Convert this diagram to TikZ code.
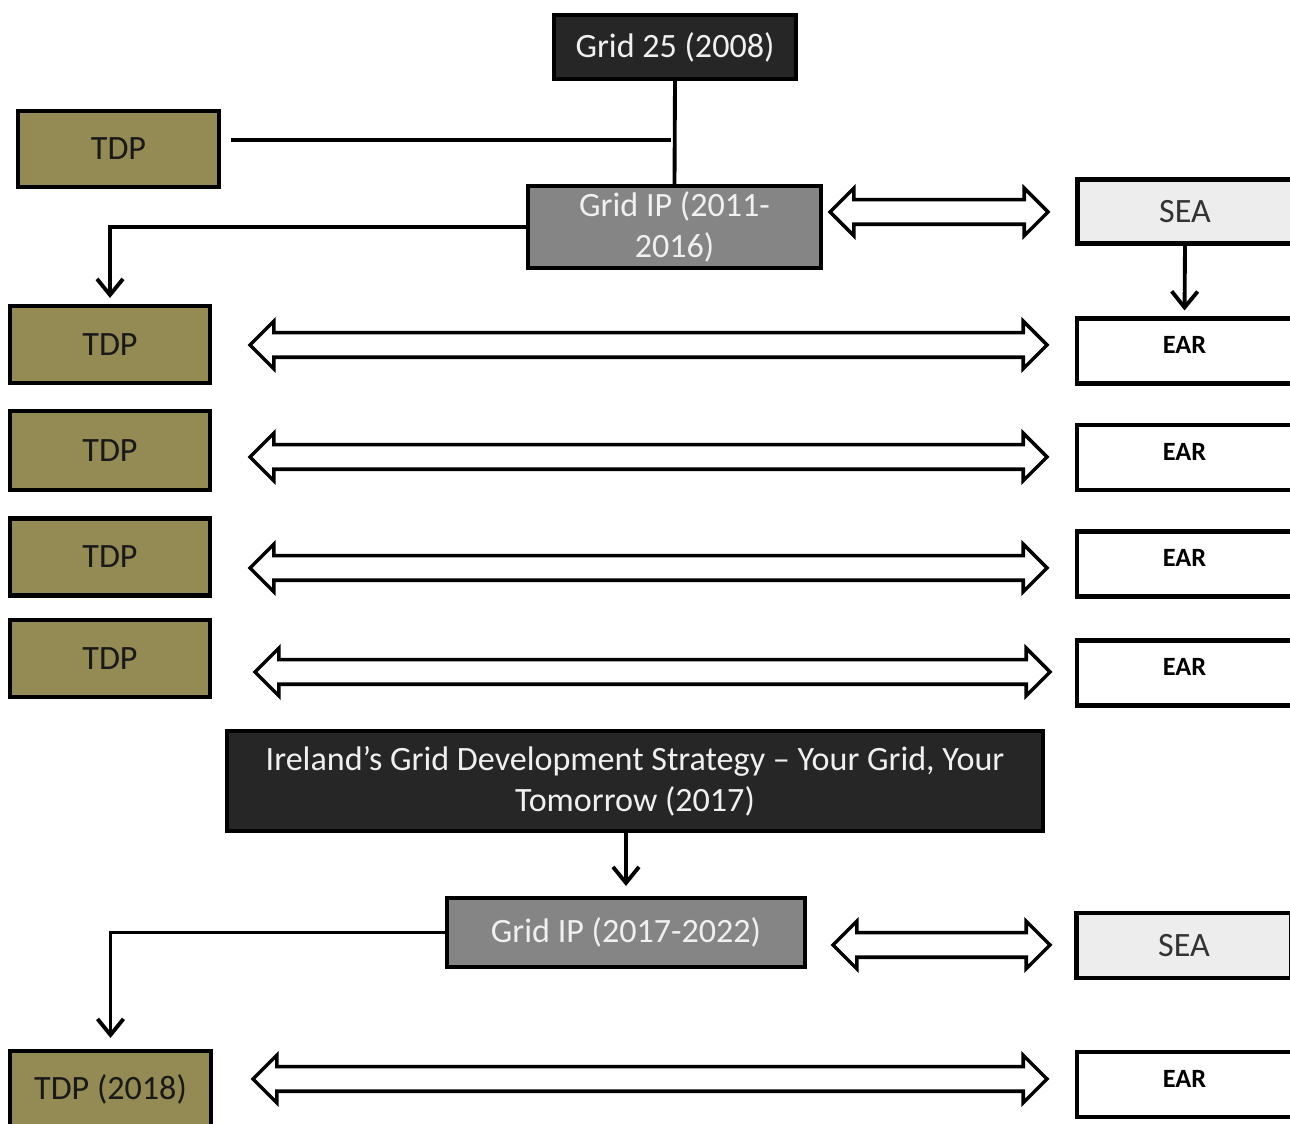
\documentclass[tikz,border=0pt]{standalone}
\usepackage{fontspec}
\setmainfont{Carlito}
\usetikzlibrary{shapes.arrows,arrows.meta,calc}
\definecolor{griddark}{HTML}{262626}
\definecolor{tdpolive}{HTML}{948A54}
\definecolor{ipgray}{HTML}{858585}
\definecolor{sealight}{HTML}{EDEDED}

\begin{document}
\begin{tikzpicture}[x=1cm,y=-1cm,
        box/.style={draw, line width=1.15pt, inner sep=0pt, align=center, font=\fontsize{9.7}{11.7}\selectfont},
        strategy/.style={box, fill=griddark, text=white!94!black},
        plan/.style={box, fill=ipgray, text=white!94!black},
        tdp/.style={box, fill=tdpolive, text=black!90, minimum width=2cm, minimum height=0.77cm},
        sea/.style={box, fill=sealight, text=black!80, minimum width=2.15cm, minimum height=0.64cm},
        ear/.style={box, fill=white, font=\fontsize{7.5}{9}\selectfont\bfseries, text depth=0.12cm, minimum width=2.15cm, minimum height=0.65cm},
        link/.style={line width=1.1pt},
        flow/.style={link, -{Straight Barb[length=0.16cm,width=0.26cm]}},
        dblarrow/.style={double arrow, draw, fill=white, line width=1pt, inner xsep=0pt, inner ysep=0.105cm, double arrow head extend=0.115cm, minimum height=#1}]
        \useasboundingbox (0,0) rectangle (12.9,11.24);
        %% strategies and plans
        \node[strategy, minimum width=2.42cm, minimum height=0.64cm] (g25) at (6.75,0.47) {Grid 25 (2008)};
        \node[tdp, minimum width=2.01cm, minimum height=0.76cm] (tdp0) at (1.185,1.49) {TDP};
        \node[plan, minimum width=2.93cm, minimum height=0.82cm] (ip1) at (6.745,2.27) {Grid IP (2011-\\2016)};
        \node[sea] (sea1) at (11.85,2.115) {SEA};
        \node[strategy, minimum width=8.16cm, minimum height=1cm] (gds) at (6.35,7.81) {Ireland’s Grid Development Strategy – Your Grid, Your\\Tomorrow (2017)};
        \node[plan, minimum width=3.58cm, minimum height=0.69cm] (ip2) at (6.26,9.325) {Grid IP (2017-2022)};
        \node[sea, minimum height=0.65cm] (sea2) at (11.84,9.455) {SEA};
        %% TDPs
        \node[tdp] (tdp1) at (1.1,3.445) {TDP};
        \node[tdp, minimum height=0.79cm] (tdp2) at (1.1,4.505) {TDP};
        \node[tdp] (tdp3) at (1.1,5.57) {TDP};
        \node[tdp] (tdp4) at (1.1,6.585) {TDP};
        \node[tdp, minimum width=2.01cm] (tdp5) at (1.105,10.895) {TDP (2018)};
        %% EARs
        \node[ear] (ear1) at (11.845,3.51) {EAR};
        \node[ear] (ear2) at (11.845,4.575) {EAR};
        \node[ear] (ear3) at (11.845,5.64) {EAR};
        \node[ear] (ear4) at (11.845,6.73) {EAR};
        \node[ear] (ear5) at (11.845,10.845) {EAR};
        %% two-way arrows
        \node[dblarrow=2.18cm] (da0) at (9.39,2.12) {};
        \node[dblarrow=7.97cm] (da1) at (6.485,3.45) {};
        \node[dblarrow=7.97cm] (da2) at (6.485,4.57) {};
        \node[dblarrow=7.97cm] (da3) at (6.485,5.68) {};
        \node[dblarrow=7.95cm] (da4) at (6.525,6.72) {};
        \node[dblarrow=2.17cm] (da5) at (9.415,9.45) {};
        \node[dblarrow=7.94cm] (da6) at (6.5,10.79) {};
        %% links
        \coordinate (tdpjoin) at ([yshift=0.09cm]tdp0.east);
        \draw[link] (g25.south) -- (ip1.north);
        \draw[link] ([xshift=0.1cm]tdpjoin) -- ([xshift=-0.04cm]tdpjoin -| g25.south);
        \draw[flow, shorten >=0.06cm] (ip1.west) -| (tdp1.north);
        \draw[flow, shorten >=0.06cm] (sea1.south) -- (ear1.north);
        \draw[flow, shorten >=0.1cm] (gds.south -| ip2.north) -- (ip2.north);
        \draw[flow, shorten >=0.11cm] (ip2.west) -| (tdp5.north);
    \end{tikzpicture}
\end{document}
